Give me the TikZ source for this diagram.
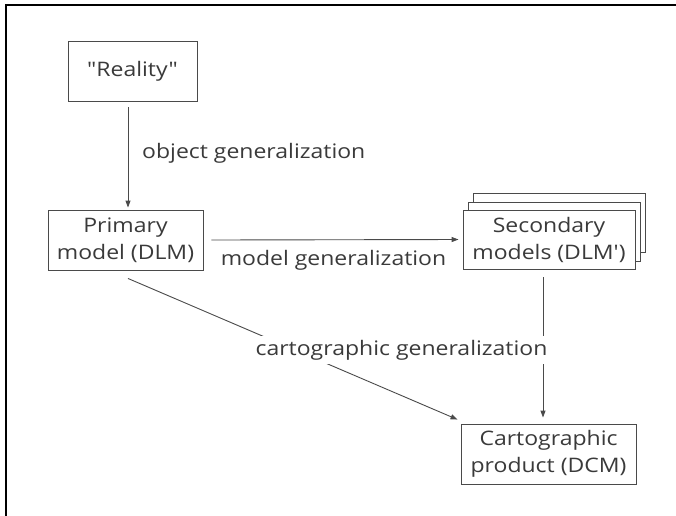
\documentclass[tikz,border=0pt]{standalone}
\usepackage{fontspec}
\setmainfont{Open Sans}[Ligatures=TeXOff,FakeStretch=1.15]
\usetikzlibrary{arrows.meta,calc}
\definecolor{InkGray}{HTML}{3A3A3A}
\definecolor{LineGray}{HTML}{4A4A4A}

\begin{document}
\begin{tikzpicture}[
  x=1pt,y=-1pt,
  font=\fontsize{20}{27}\selectfont,
  text=InkGray,
  box/.style={draw=LineGray,line width=0.9pt,fill=white,
              align=center,inner sep=0pt},
  lbl/.style={inner sep=2pt},
  ar/.style={-{Triangle[length=7pt,width=5pt]},draw=LineGray,line width=0.9pt},
]
\useasboundingbox (0,0) rectangle (676,515);
\draw[line width=2pt,black] (6,516) |- (677,5);

\node[box,minimum width=129,minimum height=60] (real) at (132.5,71) {"Reality"};
\node[box,minimum width=155,minimum height=60] (prim) at (125.5,240)
  {Primary\\model (DLM)};
% stacked secondary models
\node[box,minimum width=172,minimum height=59] (secc) at (559,222.5) {};
\node[box,minimum width=172,minimum height=59] (secb) at (554,231.5) {};
\node[box,minimum width=172,minimum height=59] (sec) at (549,239.5)
  {Secondary\\models (DLM')};
\node[box,minimum width=175,minimum height=60] (cart) at (548.5,454)
  {Cartographic\\product (DCM)};

\draw[ar] ($(real.south)+(-4.5,6)$) -- ($(real.south |- prim.north)+(-4.5,-2)$);
\node[lbl,anchor=west] (olab) at (140,153) {object generalization};

\draw[ar] ($(prim.east)+(8,0)$) -- ($(sec.west)+(-4,0)$);
\node[lbl] (mlab) at (333.5,260) {model generalization};

\draw[ar] ($(sec.south)+(-6,8)$) -- ($(sec.south |- cart.north)+(-6,-6)$);
\draw[ar] ($(prim.south)+(2.5,8)$) -- ($(cart.north west)+(-3,-4)$);
\node[lbl,fill=white,inner xsep=5pt,inner ysep=4pt] (clab) at (401.5,350)
  {cartographic generalization};
\end{tikzpicture}
\end{document}
